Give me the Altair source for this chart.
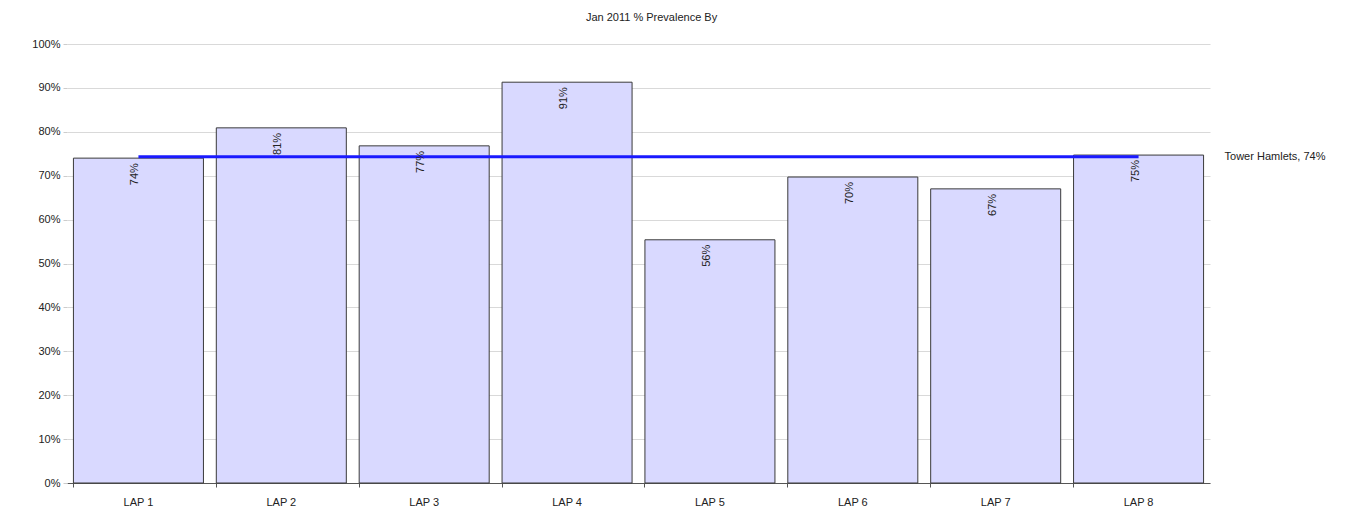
import altair as alt
import pandas as pd

categories = ["LAP 1", "LAP 2", "LAP 3", "LAP 4", "LAP 5", "LAP 6", "LAP 7", "LAP 8"]
values = [0.74, 0.809, 0.768, 0.913, 0.554, 0.697, 0.670, 0.747]
labels = ["74%", "81%", "77%", "91%", "56%", "70%", "67%", "75%"]
ref_value = 0.743
ref_label = "Tower Hamlets, 74%"
y_ticks = [0, 0.1, 0.2, 0.3, 0.4, 0.5, 0.6, 0.7, 0.8, 0.9, 1.0]

df = pd.DataFrame({"cat": categories, "val": values, "lab": labels})
ref_df = pd.DataFrame({"cat": [categories[0], categories[-1]],
                       "val": [ref_value, ref_value],
                       "lab": ["", ref_label]})

FONT = "Liberation Sans"

x = alt.X("cat:N", sort=categories, title=None,
          scale=alt.Scale(paddingInner=0.09, paddingOuter=0.045),
          axis=alt.Axis(labelAngle=0, labelFont=FONT, labelFontSize=11,
                        labelColor="#222", domainColor="#555", tickColor="#555",
                        tickSize=4, bandPosition=0, labelPadding=9, grid=False))
y = alt.Y("val:Q", title=None,
          scale=alt.Scale(domain=[0, 1], nice=False),
          axis=alt.Axis(values=y_ticks, format=".0%", labelFont=FONT, labelFontSize=11,
                        labelColor="#222", domain=False, tickColor="#ccc", tickSize=4,
                        labelPadding=3, gridColor="#d9d9d9", gridWidth=1))

bars = alt.Chart(df).mark_bar(fill="#d9d9ff", stroke="#3a3a3a", strokeWidth=1).encode(x=x, y=y)

line = alt.Chart(ref_df).mark_line(color="#1a1aff", strokeWidth=3).encode(
    x=alt.X("cat:N", sort=categories), y="val:Q")

ref_text = alt.Chart(ref_df).mark_text(align="left", baseline="middle", dx=86,
                                        font=FONT, fontSize=11, color="#222").encode(
    x=alt.X("cat:N", sort=categories), y="val:Q", text="lab:N")

texts = alt.Chart(df).mark_text(angle=270, align="right", baseline="middle", dx=-5, dy=-3,
                                 font=FONT, fontSize=11, color="#222").encode(
    x=alt.X("cat:N", sort=categories), y="val:Q", text="lab:N")

chart = alt.layer(bars, line, texts, ref_text).properties(
    width=1143, height=439,
    title=alt.TitleParams("Jan 2011 % Prevalence By", font=FONT, fontSize=11,
                          fontWeight="normal", color="#222", anchor="middle",
                          dx=13, offset=15),
    autosize=alt.AutoSizeParams(type="none"),
    padding={"left": 59, "top": 36, "right": 130, "bottom": 27},
).configure_view(stroke=None)

chart.save("out.html", embed_options={"renderer": "svg", "actions": False})
